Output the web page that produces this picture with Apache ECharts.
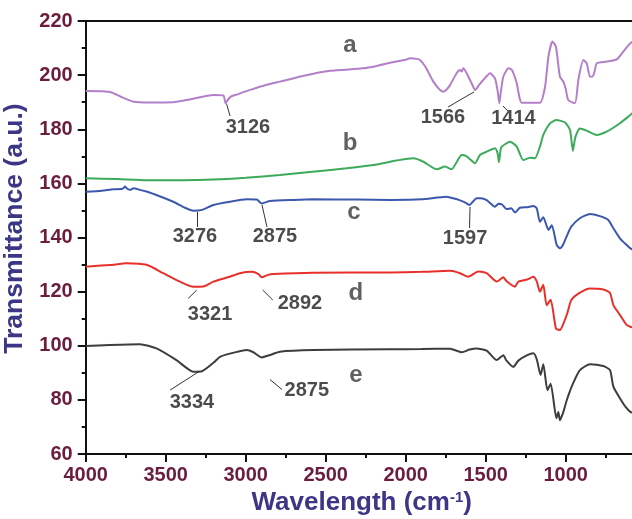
<!DOCTYPE html>
<html>
<head>
<meta charset="utf-8">
<script src="https://cdn.jsdelivr.net/npm/echarts@6/dist/echarts.min.js"></script>
<style>html,body{margin:0;padding:0;background:#fff}#c{width:632px;height:519px}</style>
</head>
<body>
<div id="c"></div>
<script>
// ---- data (wavenumber, transmittance) ----
const seriesNames = ['a', 'b', 'c', 'd', 'e'];
const seriesA = [[4000,194.1],[3900,194.0],[3838,193.6],[3780,192],[3702,190.2],[3600,189.9],[3454,190.0],[3350,191],[3202,192.7],[3140,192.5],[3125,189.6],[3110,191],[3088,192.2],[3056,192.8],[3000,194],[2900,195.9],[2786,197.6],[2650,199.6],[2473,201.6],[2267,202.5],[2181,203.4],[2098,204.6],[2000,205.7],[1973,206.2],[1930,206],[1911,205.6],[1877,203.1],[1827,197.6],[1790,194.8],[1765,193.9],[1740,195],[1723,196.3],[1682,200.7],[1661,201.9],[1650,201.3],[1640,202.5],[1619,200.7],[1588,197.0],[1566,194.5],[1540,196.5],[1515,198.2],[1473,200.7],[1442,198.8],[1425,194],[1415,189.6],[1405,194],[1390,199.4],[1358,202.5],[1337,202],[1306,197.0],[1290,192],[1275,189.8],[1161,189.8],[1129,195.7],[1108,206.8],[1083,212.4],[1061,210.5],[1036,199.4],[1015,197.6],[1000,195],[984,190.8],[942,189.6],[921,198.2],[890,205.6],[869,204.4],[848,199.4],[830,199.6],[817,202],[806,204.4],[744,205.0],[681,205.8],[640,208.7],[596,211.8],[560,213]];
const seriesB = [[4000,161.9],[3800,161.6],[3619,161.2],[3400,161.2],[3202,161.4],[3000,162.1],[2786,163.1],[2600,164.2],[2369,165.6],[2200,166.8],[2098,168.0],[2000,169.0],[1952,169.3],[1889,168.0],[1806,165.2],[1754,166.2],[1713,165.2],[1680,168],[1650,170.5],[1619,170],[1590,168.5],[1567,167.4],[1536,170.5],[1494,171.7],[1442,173.0],[1425,171],[1417,167.8],[1408,172],[1400,173.5],[1348,175.4],[1306,173.6],[1265,168.6],[1223,169.5],[1192,169.3],[1161,173.6],[1140,177.9],[1098,182.2],[1058,183.4],[1004,182.5],[973,179.7],[955,172],[940,177],[911,180.3],[869,179.5],[806,177.9],[744,179.1],[661,182.2],[596,185.3],[560,187]];
const seriesC = [[4000,156.9],[3900,157.3],[3827,157.8],[3770,158],[3754,158.8],[3740,158],[3723,157.6],[3700,158.2],[3661,157.6],[3620,157],[3577,156.1],[3452,153.2],[3380,151],[3327,149.9],[3273,150.2],[3202,152.0],[3100,153.2],[2994,154.1],[2931,154.0],[2900,152.6],[2848,153.5],[2700,153.9],[2577,154.1],[2300,154],[2098,153.9],[1900,154.1],[1746,155.1],[1673,154.0],[1630,153],[1602,152.0],[1557,154.5],[1530,154.5],[1494,153.8],[1442,151.4],[1420,152.5],[1400,152.3],[1369,150.5],[1340,150.8],[1317,149.2],[1286,151],[1240,151.2],[1202,151.6],[1181,150.8],[1161,145.8],[1140,147.5],[1108,142.8],[1087,144.5],[1056,137.2],[1036,136.0],[1015,137.5],[990,141],[965,144.0],[911,147.1],[848,148.7],[786,147.9],[734,146.5],[702,143.4],[661,139.7],[619,137.2],[596,136.0],[560,135]];
const seriesD = [[4000,129.2],[3850,129.8],[3744,130.5],[3619,129.9],[3515,126.8],[3411,123.7],[3327,121.8],[3265,121.9],[3202,123.7],[3100,125.5],[3036,126.8],[2963,127.3],[2920,126.5],[2900,125.3],[2860,126.2],[2827,126.5],[2577,127.0],[2098,127.1],[1900,127.3],[1723,127.7],[1660,126.8],[1609,125.5],[1546,127.4],[1494,126.8],[1431,123.7],[1390,125.3],[1369,123.8],[1317,121.8],[1296,123.7],[1240,124.5],[1202,125.5],[1181,123.8],[1161,120.0],[1140,122.5],[1119,115.0],[1094,117.0],[1061,106.4],[1036,105.8],[1019,107.5],[990,112],[965,116.9],[911,119.6],[848,121.2],[765,120.8],[723,119.5],[702,115.0],[661,111.4],[619,107.7],[596,107.0],[560,106.5]];
const seriesE = [[4000,99.9],[3850,100.3],[3661,100.6],[3558,99.0],[3433,94.7],[3327,90.4],[3273,90.6],[3200,93.8],[3158,96.0],[3050,97.8],[2994,98.4],[2952,97.6],[2900,95.7],[2848,96.6],[2786,97.8],[2577,98.4],[2098,98.7],[1900,98.8],[1723,98.9],[1650,97.6],[1600,98.6],[1557,99.0],[1494,98.2],[1431,94.7],[1390,96.5],[1370,94.5],[1327,92.2],[1296,94.5],[1240,96.5],[1202,97.2],[1181,95.0],[1157,89.2],[1140,93.2],[1114,83.6],[1094,86.0],[1058,73.2],[1046,75.5],[1036,72.5],[1015,75.5],[990,80.5],[954,86.1],[911,91.0],[848,93.2],[765,92.5],[723,91.0],[702,84.9],[661,80.6],[627,77.5],[596,75.6],[560,75]];

// curve letters
const letterLabels = [['a',2348,211.1],['b',2348,174.9],['c',2323,149.1],['d',2311,119.5],['e',2311,89.2]];
// peak labels: text, x, y
const peakLabels = [['3126',2986,180.8],['1566',1767,184.2],['1414',1327,183.8],['1597',1629,139.8],['3276',3317,140.2],['2875',2817,140.2],['3321',3223,111.4],['2892',2661,115.8],['3334',3336,79.2],['2875',2618,83.6]];
// leader lines: [x1,y1,x2,y2]
const leaderLines = [[3119,189.3,3098,184.9],[1573,193.8,1736,188.2],[1392,188.6,1361,186.7],[1598,151.3,1601,143.5],[3304,149.4,3304,143.9],[2898,152,2867,143.9],[3306,120.6,3359,117.5],[2894,120.6,2831,116.9],[3296,90.3,3473,83.6],[2848,87.5,2773,83.8]];

const xTicks = {min: 500, max: 4000, step: 500};
const yTicks = {min: 60, max: 220, step: 20};

const colors = ['#b27fc8', '#3dab5b', '#3c58ae', '#e8302b', '#3d3d3d'];
const tickColor = '#6b1d3d';
const titleColor = '#3b3686';
const fontFam = 'Liberation Sans, Arial, sans-serif';

const chart = echarts.init(document.getElementById('c'), null, {renderer: 'canvas'});
const allData = [seriesA, seriesB, seriesC, seriesD, seriesE];

const lineSeries = allData.map((d, i) => ({
  name: seriesNames[i], type: 'line', data: d, showSymbol: false,
  lineStyle: {color: colors[i], width: 2}, itemStyle: {color: colors[i]},
  smooth: 0.2, z: 2
}));

const option = {
  animation: false,
  backgroundColor: '#fff',
  grid: {left: 85.7, top: 21, right: -13.7, bottom: 65, containLabel: false, outerBoundsMode: 'none'},
  xAxis: [{
    type: 'value', min: xTicks.min, max: xTicks.max, interval: xTicks.step, inverse: true,
    name: 'Wavelength (cm{sup|-1})', nameLocation: 'middle', nameGap: 35,
    nameTextStyle: {color: titleColor, fontSize: 26, fontWeight: 'bold', fontFamily: fontFam, padding: [0, 8, 0, 0],
      rich: {sup: {fontSize: 15, fontWeight: 'bold', color: titleColor, fontFamily: fontFam, verticalAlign: 'top', padding: [0,0,11,0]}}},
    axisLine: {show: true, onZero: false, lineStyle: {color: '#111', width: 2}},
    axisTick: {show: true, inside: false, length: 8, lineStyle: {color: '#111', width: 2}},
    minorTick: {show: true, splitNumber: 2, length: 4, lineStyle: {color: '#111', width: 2}},
    splitLine: {show: false},
    axisLabel: {color: tickColor, fontSize: 20, fontWeight: 'bold', fontFamily: fontFam, margin: 11,
      formatter: v => (v < 1000 ? '' : String(v))}
  }, {
    type: 'value', position: 'top', min: xTicks.min, max: xTicks.max, inverse: true,
    axisLine: {show: true, onZero: false, lineStyle: {color: '#111', width: 2}},
    axisTick: {show: false}, axisLabel: {show: false}, splitLine: {show: false}
  }],
  yAxis: {
    type: 'value', min: yTicks.min, max: yTicks.max, interval: yTicks.step,
    name: 'Transmittance (a.u.)', nameLocation: 'middle', nameGap: 45,
    nameTextStyle: {color: titleColor, fontSize: 26.5, fontWeight: 'bold', fontFamily: fontFam, padding: [0, 0, 0, 18]},
    axisLine: {show: true, onZero: false, lineStyle: {color: '#111', width: 2}},
    axisTick: {show: true, inside: false, length: 8, lineStyle: {color: '#111', width: 2}},
    minorTick: {show: true, splitNumber: 2, length: 4, lineStyle: {color: '#111', width: 2}},
    splitLine: {show: false},
    axisLabel: {color: tickColor, fontSize: 20, fontWeight: 'bold', fontFamily: fontFam, margin: 13}
  },
  series: [
    ...lineSeries,
    {
      type: 'lines', coordinateSystem: 'cartesian2d', polyline: false, silent: true,
      data: leaderLines.map(l => ({coords: [[l[0], l[1]], [l[2], l[3]]]})),
      lineStyle: {color: '#333', width: 1, opacity: 1}, z: 3
    },
    {
      type: 'scatter', symbolSize: 0, silent: true, z: 4,
      data: peakLabels.map(p => ({name: p[0], value: [p[1], p[2]]})),
      label: {show: true, position: 'inside', formatter: '{b}', color: '#1e1e1e', fontSize: 20, fontWeight: 'bold', fontFamily: fontFam}
    },
    {
      type: 'scatter', symbolSize: 0, silent: true, z: 4,
      data: letterLabels.map(p => ({name: p[0], value: [p[1], p[2]]})),
      label: {show: true, position: 'inside', formatter: '{b}', color: '#3a3a3a', fontSize: 24, fontWeight: 'bold', fontFamily: fontFam}
    }
  ]
};
chart.setOption(option);
</script>
</body>
</html>
